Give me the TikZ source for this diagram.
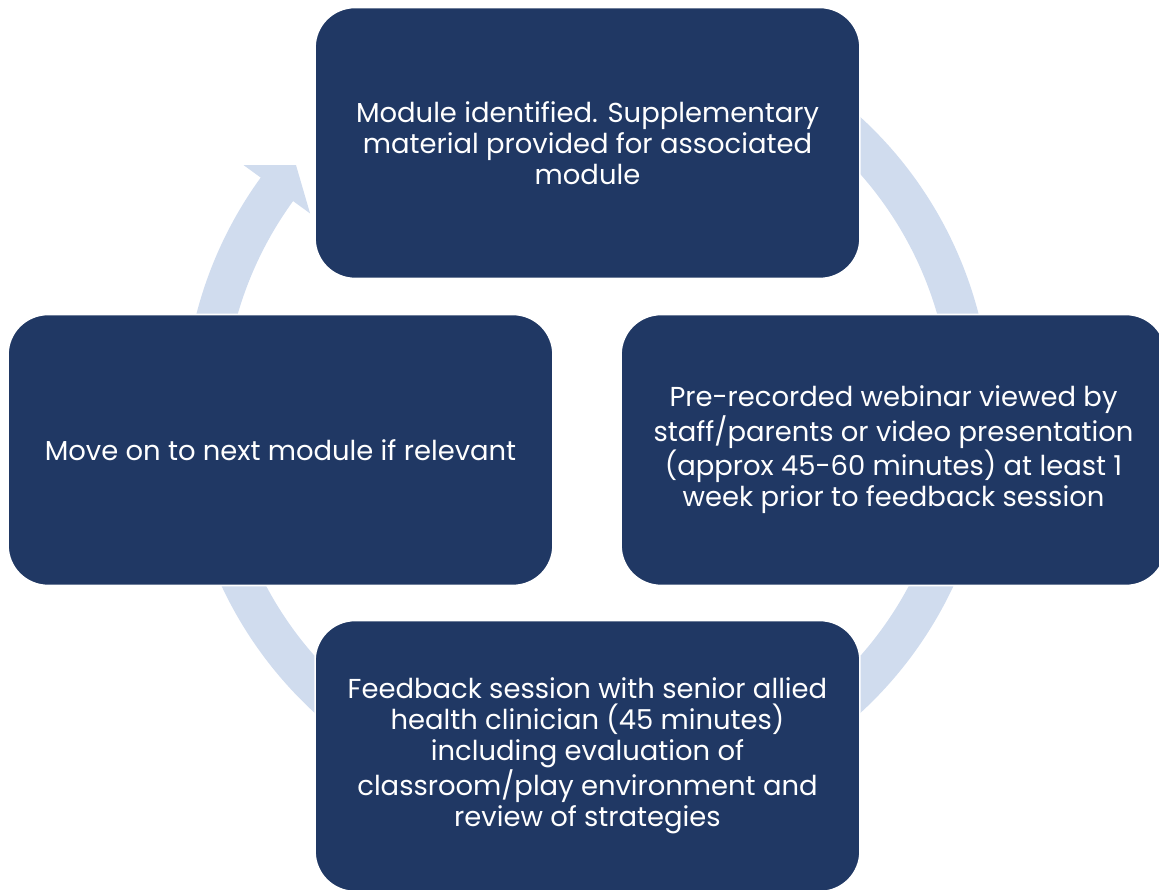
\documentclass[tikz,border=0pt]{standalone}
\usepackage{fontspec}
\setmainfont{Poppins}
\usetikzlibrary{calc}
\definecolor{boxblue}{RGB}{32,56,100}
\definecolor{ringblue}{RGB}{208,220,238}
\tikzset{
  modulebox/.style={rectangle, rounded corners=0.8cm, fill=boxblue, draw=white,
    line width=0.9pt, minimum width=10.9cm, minimum height=5.42cm,
    text=white, align=center, font=\fontsize{15.6}{17.6}\selectfont},
  cyclearrow/.style={fill=ringblue}
}
\begin{document}
\begin{tikzpicture}[x=0.02cm, y=0.02cm, line join=round]
    \useasboundingbox (0,0) rectangle (1159,889);
    \clip (0,0) rectangle (1159,889);

    % tâm của mũi tên vòng
    \coordinate (ctr) at (587.5,474);

    % mũi tên vòng phía sau
    \fill[cyclearrow] ($(ctr)+(60:8.08cm)$) arc[start angle=60, end angle=-216, radius=8.08cm]
        -- ($(ctr)+(-216:8.5cm)$) -- ($(ctr)+(-220.6:7.68cm)$) -- ($(ctr)+(-216:6.86cm)$)
        -- ($(ctr)+(-216:7.28cm)$) arc[start angle=-216, end angle=60, radius=7.28cm] -- cycle;

    % các ô
    \node[modulebox] (identify) at (587.5,746)
        {Module identified. Supplementary\\material provided for associated\\module};
    \node[modulebox] (webinar) at (893.5,439)
        {Pre-recorded webinar viewed by\\staff/parents or video presentation\\(approx 45-60 minutes) at least 1\\week prior to feedback session};
    \node[modulebox] (feedback) at (587.5,133)
        {Feedback session with senior allied\\health clinician (45 minutes)\\including evaluation of\\classroom/play environment and\\review of strategies};
    \node[modulebox] (moveon) at (280.5,439)
        {Move on to next module if relevant};
\end{tikzpicture}
\end{document}
